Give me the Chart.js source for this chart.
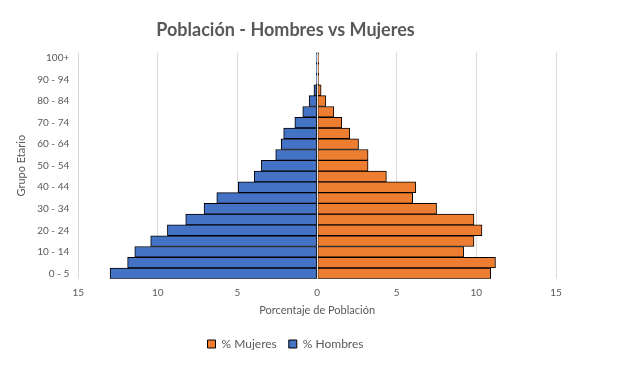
<!DOCTYPE html>
<html>
<head>
<meta charset="utf-8">
<script src="https://cdn.jsdelivr.net/npm/chart.js@4.4.0/dist/chart.umd.min.js"></script>
<style>
  html, body { margin: 0; padding: 0; background: #fff; }
  #wrap { width: 638px; height: 368px; }
</style>
</head>
<body>
<div id="wrap"><canvas id="chart" width="638" height="368"></canvas></div>
<script>
// grupos de edad, de abajo hacia arriba
const grupos = ['0 - 5', '5 - 9', '10 - 14', '15 - 19', '20 - 24', '25 - 29', '30 - 34', '35 - 39',
    '40 - 44', '45 - 49', '50 - 54', '55 - 59', '60 - 64', '65 - 69', '70 - 74', '75 - 79',
    '80 - 84', '85 - 89', '90 - 94', '95 - 99', '100+'];

// % de poblacion (hombres se dibujan hacia la izquierda)
const hombres = [13.0, 11.9, 11.45, 10.45, 9.4, 8.25, 7.1, 6.3, 4.95, 3.95, 3.5, 2.6, 2.25, 2.1, 1.4, 0.9, 0.5, 0.2, 0.05, 0.05, 0.05];
const mujeres = [10.9, 11.2, 9.2, 9.85, 10.35, 9.85, 7.5, 6.0, 6.2, 4.35, 3.2, 3.2, 2.6, 2.05, 1.55, 1.05, 0.55, 0.25, 0.1, 0.1, 0.1];

const ticksX = [-15, -10, -5, 0, 5, 10, 15];

const gris = '#595959';

// linea del cero por encima de las barras
const lineaCero = {
    id: 'lineaCero',
    afterDatasetsDraw(chart) {
        const { ctx, chartArea, scales } = chart;
        const x = Math.round(scales.x.getPixelForValue(0)) + 0.5;
        ctx.save();
        ctx.strokeStyle = '#e6e6e6';
        ctx.lineWidth = 1;
        ctx.beginPath();
        ctx.moveTo(x, chartArea.top);
        ctx.lineTo(x, chartArea.bottom);
        ctx.stroke();
        ctx.restore();
    }
};

new Chart(document.getElementById('chart').getContext('2d'), {
    type: 'bar',
    data: {
        labels: grupos,
        datasets: [
            {
                label: '% Mujeres',
                data: mujeres,
                backgroundColor: '#ed7d31',
                borderColor: '#000',
                borderWidth: 1,
                borderSkipped: false,
                categoryPercentage: 1,
                barPercentage: 1
            },
            {
                label: '% Hombres',
                data: hombres.map(v => -v),
                backgroundColor: '#4472c4',
                borderColor: '#000',
                borderWidth: 1,
                borderSkipped: false,
                categoryPercentage: 1,
                barPercentage: 1
            }
        ]
    },
    options: {
        indexAxis: 'y',
        responsive: false,
        animation: false,
        layout: { padding: { left: 15, right: 82, top: 4, bottom: 8 } },
        plugins: {
            title: {
                display: true,
                text: 'Población - Hombres vs Mujeres',
                color: gris,
                font: { family: 'Lato', size: 18, weight: 'bold' },
                padding: { top: 15, bottom: 12 }
            },
            legend: {
                position: 'bottom',
                labels: {
                    color: gris,
                    font: { family: 'Lato', size: 12 },
                    boxWidth: 8,
                    boxHeight: 8,
                    padding: 12
                }
            },
            tooltip: { enabled: false }
        },
        scales: {
            x: {
                stacked: true,
                min: -15,
                max: 15,
                afterBuildTicks: axis => { axis.ticks = ticksX.map(v => ({ value: v })); },
                ticks: {
                    color: gris,
                    font: { family: 'Lato', size: 10 },
                    callback: v => Math.abs(v),
                    padding: 8
                },
                grid: { color: '#d9d9d9', drawTicks: false },
                border: { display: false },
                title: {
                    display: true,
                    text: 'Porcentaje de Población',
                    color: gris,
                    font: { family: 'Lato', size: 11 },
                    padding: { top: -3, bottom: 9 }
                }
            },
            y: {
                stacked: true,
                reverse: true,
                ticks: {
                    color: gris,
                    font: { family: 'Lato', size: 10 },
                    autoSkip: false,
                    callback: (v, i) => (i % 2 === 0 ? grupos[i] : ''),
                    padding: 9
                },
                grid: { display: false, drawTicks: false },
                border: { display: false },
                title: {
                    display: true,
                    text: 'Grupo Etario',
                    color: gris,
                    font: { family: 'Lato', size: 11 },
                    padding: 0
                }
            }
        }
    },
    plugins: [lineaCero]
});
</script>
</body>
</html>
